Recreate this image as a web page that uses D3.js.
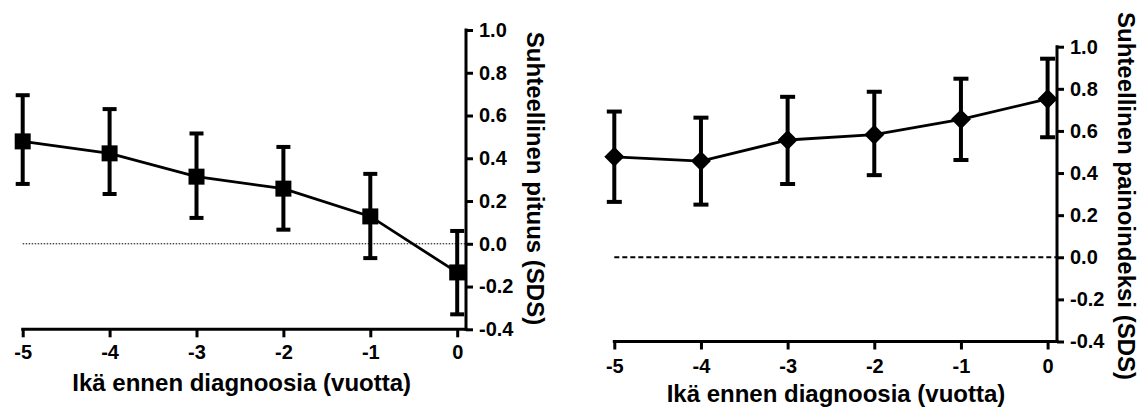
<!DOCTYPE html>
<html>
<head>
<meta charset="utf-8">
<script src="https://cdn.jsdelivr.net/npm/d3@7"></script>
<style>
  html, body { margin: 0; padding: 0; background: #fff; }
  svg { display: block; }
  text { font-family: "Liberation Sans", Arial, sans-serif; font-weight: bold; fill: #000; }
</style>
</head>
<body>
<svg id="chart" width="1139" height="408"></svg>
<script>
// ---- Data ----
const years = [-5, -4, -3, -2, -1, 0];
const yearTickLabels = ["-5", "-4", "-3", "-2", "-1", "0"];
const yTickValues = [-0.4, -0.2, 0.0, 0.2, 0.4, 0.6, 0.8, 1.0];
const yTickLabels = ["-0.4", "-0.2", "0.0", "0.2", "0.4", "0.6", "0.8", "1.0"];

const heightMean  = [0.479, 0.423, 0.314, 0.258, 0.128, -0.134];
const heightUpper = [0.695, 0.630, 0.516, 0.453, 0.327, 0.060];
const heightLower = [0.280, 0.233, 0.121, 0.066, -0.067, -0.330];

const bmiMean  = [0.477, 0.457, 0.557, 0.582, 0.655, 0.752];
const bmiUpper = [0.692, 0.663, 0.762, 0.786, 0.848, 0.943];
const bmiLower = [0.263, 0.250, 0.348, 0.390, 0.462, 0.570];

const xTitle = "Ikä ennen diagnoosia (vuotta)";
const yTitleLeft = "Suhteellinen pituus (SDS)";
const yTitleRight = "Suhteellinen painoindeksi (SDS)";

const svg = d3.select("#chart");

function panel(opts) {
  const g = svg.append("g");
  const x = d3.scaleLinear().domain([-5, 0]).range(opts.xRange);
  const y = d3.scaleLinear().domain([-0.4, 1.0]).range(opts.yRange);
  const axisX = opts.axisX;   // y-axis position
  const baseY = y(-0.4);      // x-axis position

  // reference line at 0
  g.append("line")
    .attr("x1", x(-5)).attr("x2", axisX)
    .attr("y1", y(0)).attr("y2", y(0))
    .attr("stroke", "#000")
    .attr("stroke-width", opts.refWidth)
    .attr("stroke-dasharray", opts.refDash);

  // x axis
  const xa = g.append("g")
    .attr("transform", `translate(0,${baseY})`)
    .call(d3.axisBottom(x).tickValues(years)
      .tickFormat((d, i) => yearTickLabels[i])
      .tickSize(8).tickSizeOuter(0).tickPadding(opts.xPad));
  xa.select(".domain").remove();
  xa.selectAll(".tick line").attr("stroke", "#000").attr("stroke-width", 3);
  xa.selectAll(".tick text").style("font-size", "20px").style("font-family", null).attr("fill", "#000");
  g.append("line")
    .attr("x1", x(-5) - 1.5).attr("x2", axisX + 1.5)
    .attr("y1", baseY).attr("y2", baseY)
    .attr("stroke", "#000").attr("stroke-width", 3);

  // y axis (on the right)
  const ya = g.append("g")
    .attr("transform", `translate(${axisX},0)`)
    .call(d3.axisRight(y).tickValues(yTickValues)
      .tickFormat((d, i) => yTickLabels[i])
      .tickSize(7).tickSizeOuter(0).tickPadding(6));
  ya.select(".domain").remove();
  ya.selectAll(".tick line").attr("stroke", "#000").attr("stroke-width", 3);
  ya.selectAll(".tick text").style("font-size", "20px").style("font-family", null).attr("fill", "#000");
  g.append("line")
    .attr("x1", axisX).attr("x2", axisX)
    .attr("y1", y(1.0) - 1.5).attr("y2", baseY + 1.5)
    .attr("stroke", "#000").attr("stroke-width", 3);

  // error bars
  const eb = g.append("g");
  years.forEach((yr, i) => {
    const cx = x(yr);
    eb.append("line")
      .attr("x1", cx).attr("x2", cx)
      .attr("y1", y(opts.upper[i])).attr("y2", y(opts.lower[i]))
      .attr("stroke", "#000").attr("stroke-width", 4);
    [opts.upper[i], opts.lower[i]].forEach(v => {
      eb.append("line")
        .attr("x1", cx - opts.cap).attr("x2", cx + opts.cap)
        .attr("y1", y(v)).attr("y2", y(v))
        .attr("stroke", "#000").attr("stroke-width", 4);
    });
  });

  // connecting line
  g.append("path")
    .datum(years.map((yr, i) => [yr, opts.mean[i]]))
    .attr("fill", "none")
    .attr("stroke", "#000")
    .attr("stroke-width", 2.8)
    .attr("d", d3.line().x(d => x(d[0])).y(d => y(d[1])));

  // markers
  g.selectAll("path.marker")
    .data(years.map((yr, i) => [yr, opts.mean[i]]))
    .join("path")
    .attr("class", "marker")
    .attr("d", d3.symbol().type(d3.symbolSquare).size(opts.markerSize))
    .attr("transform", d => `translate(${x(d[0])},${y(d[1])}) rotate(${opts.markerRotate})`)
    .attr("fill", "#000");

  // titles
  g.append("text")
    .attr("x", opts.xTitlePos[0]).attr("y", opts.xTitlePos[1])
    .attr("text-anchor", "middle")
    .style("font-size", "24px")
    .text(xTitle);

  g.append("text")
    .attr("transform", `translate(${opts.yTitlePos[0]},${opts.yTitlePos[1]}) rotate(90)`)
    .attr("text-anchor", "middle")
    .style("font-size", "24px")
    .text(opts.yTitle);
}

panel({
  xRange: [22.7, 457.2], yRange: [329.3, 30], axisX: 466,
  mean: heightMean, upper: heightUpper, lower: heightLower,
  cap: 7, markerSize: 256, markerRotate: 0,
  refWidth: 1, refDash: "1.5,1.5", xPad: 8,
  xTitlePos: [241.7, 390.7], yTitlePos: [527, 178.5], yTitle: yTitleLeft
});

panel({
  xRange: [614.3, 1047.6], yRange: [341.5, 46.7], axisX: 1057,
  mean: bmiMean, upper: bmiUpper, lower: bmiLower,
  cap: 7.5, markerSize: 200, markerRotate: 45,
  refWidth: 2, refDash: "5,3", xPad: 9,
  xTitlePos: [836, 402], yTitlePos: [1118, 196], yTitle: yTitleRight
});
</script>
</body>
</html>
